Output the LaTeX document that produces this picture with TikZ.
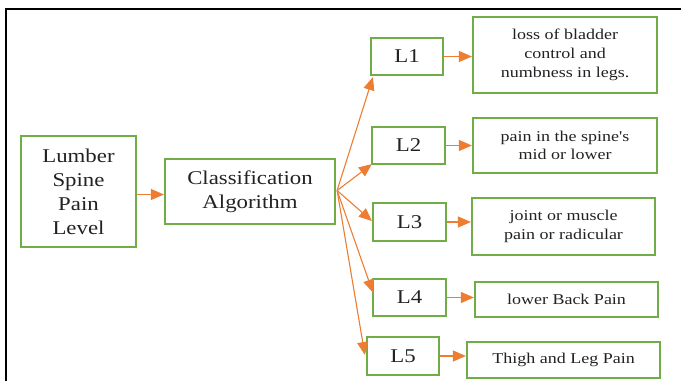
\documentclass[tikz,border=0pt]{standalone}
\usepackage{fontspec}
\setmainfont{Liberation Serif}[FakeStretch=1.17]
\newfontfamily\descfont{Liberation Serif}[FakeStretch=1.2]
\usetikzlibrary{arrows.meta,calc}
\definecolor{boxgreen}{HTML}{70AD47}
\definecolor{arrorange}{HTML}{ED7D31}
\definecolor{txt}{HTML}{222222}
\tikzset{
  gbox/.style={draw=boxgreen, line width=2.2pt, inner sep=0pt, align=center, text=txt},
  bigtxt/.style={font=\fontsize{19.5}{24}\selectfont},
  smalltxt/.style={font=\descfont\fontsize{15}{18.7}\selectfont},
  conn/.style={draw=arrorange, line width=1.1pt, -{Triangle[length=13pt,width=11pt]}},
}
\begin{document}
\begin{tikzpicture}[x=1pt,y=-1pt]
\useasboundingbox (0,0) rectangle (681,381);
\draw[line width=2.5pt] (6,381) -- (6,9) -- (681,9);
% main boxes
\node[gbox,bigtxt,minimum width=115pt,minimum height=111pt] (lumber) at (78.5,191.5) {Lumber\\Spine\\Pain\\Level};
\node[gbox,bigtxt,minimum width=170pt,minimum height=65pt] (class) at (250,191.5) {Classification\\Algorithm};
% level boxes
\node[gbox,bigtxt,minimum width=72pt,minimum height=37pt] (L1) at (407,56.5) {L1};
\node[gbox,bigtxt,minimum width=73pt,minimum height=37pt] (L2) at (408.5,145.5) {L2};
\node[gbox,bigtxt,minimum width=73pt,minimum height=38pt] (L3) at (409.5,222) {L3};
\node[gbox,bigtxt,minimum width=73pt,minimum height=37pt] (L4) at (409.5,297.5) {L4};
\node[gbox,bigtxt,minimum width=72pt,minimum height=38pt] (L5) at (403,356) {L5};
% description boxes
\node[gbox,smalltxt,minimum width=184pt,minimum height=76pt] (d1) at (565,55) {loss of bladder\\control and\\numbness in legs.};
\node[gbox,smalltxt,minimum width=184pt,minimum height=55pt] (d2) at (565,145.5) {pain in the spine's\\mid or lower};
\node[gbox,smalltxt,minimum width=183pt,minimum height=57pt] (d3) at (563.5,226.5) {joint or muscle\\pain or radicular};
\node[gbox,smalltxt,minimum width=183pt,minimum height=35pt] (d4) at (566.5,299.5) {lower Back Pain};
\node[gbox,smalltxt,minimum width=193pt,minimum height=36pt] (d5) at (563.5,360) {Thigh and Leg Pain};
% connectors
\coordinate (hub) at ($(class.east)+(1,-1)$);
\draw[conn] ($(lumber.east)+(0,3)$) -- ($(class.west)+(0,3)$);
\draw[conn] (hub) -- ($(L1.south west)+(3,1)$);
\draw[conn] (hub) -- ($(L2.south west)+(1,-1)$);
\draw[conn] (hub) -- ($(L3.west)+(0,-1)$);
\draw[conn] (hub) -- ($(L4.west)+(1,-5)$);
\draw[conn] (hub) -- ($(L5.west)+(-1,-1)$);
\draw[conn] (L1.east) -- (d1.west |- L1.east);
\draw[conn] (L2.east) -- (d2.west |- L2.east);
\draw[conn] (L3.east) -- (d3.west |- L3.east);
\draw[conn] (L4.east) -- (d4.west |- L4.east);
\draw[conn] (L5.east) -- (d5.west |- L5.east);
\end{tikzpicture}
\end{document}
